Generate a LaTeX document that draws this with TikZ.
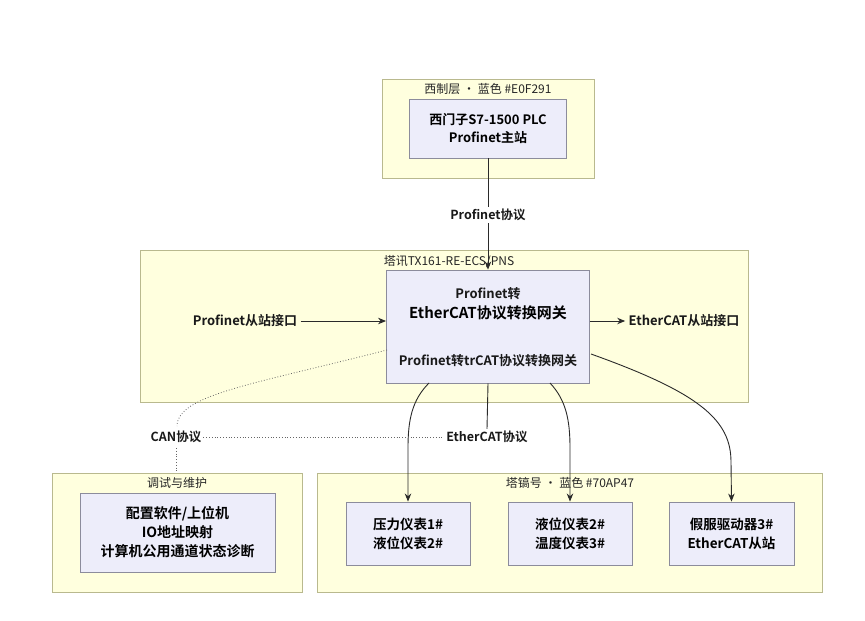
\documentclass[tikz,border=0pt]{standalone}
\usepackage{fontspec}
\setmainfont{Noto Sans CJK SC}[BoldFont={Noto Sans CJK SC Bold}]
\usetikzlibrary{arrows.meta}
\definecolor{clfill}{HTML}{FFFFDE}
\definecolor{cldraw}{HTML}{B9B98E}
\definecolor{ndfill}{HTML}{EDEDFA}
\definecolor{nddraw}{HTML}{8C8C9C}
\definecolor{ln}{HTML}{2A2A2A}
\tikzset{
  cluster/.style={draw=cldraw, fill=clfill, line width=0.9pt},
  boxnode/.style={draw=nddraw, fill=ndfill, line width=0.9pt, align=center, font=\fontsize{13}{18}\selectfont\bfseries, inner sep=0pt},
  cllabel/.style={font=\fontsize{12}{14}\selectfont, text=black!85},
  txt/.style={font=\fontsize{13}{16}\selectfont\bfseries, text=black!90},
  edgelbl/.style={font=\fontsize{12.5}{15}\selectfont\bfseries, fill=white, inner sep=2pt, text=black!90},
  conn/.style={draw=ln, line width=0.9pt},
  arr/.style={conn, -{Stealth[length=8pt,width=6.5pt]}},
  dots/.style={draw=black!60, line width=0.8pt, dotted},
}
\begin{document}
\begin{tikzpicture}[x=1pt,y=-1pt]
\useasboundingbox[fill=white] (0,0) rectangle (865,621);
% clusters
\draw[cluster] (382,79) rectangle (594,178);
\node[cllabel] (topcl) at (488,89) {西制层 · 蓝色 \#E0F291};
\draw[cluster] (140,250) rectangle (748,402);
\node[cllabel] (midcl) at (449,262) {塔讯TX161-RE-ECS/PNS};
\draw[cluster] (52,473) rectangle (302,592);
\node[cllabel] (blcl) at (177,483) {调试与维护};
\draw[cluster] (317,473) rectangle (822,592);
\node[cllabel] (brcl) at (570,483) {塔镐号 · 蓝色 \#70AP47};
% nodes
\node[boxnode, minimum width=157pt, minimum height=59pt] (plc) at (488,128.5) {西门子S7-1500 PLC\\Profinet主站};
\node[boxnode, minimum width=203pt, minimum height=113pt] (gw) at (488,326.5) {};
\node[txt] (gw1) at (488,294) {Profinet转};
\node[font=\fontsize{15}{18}\selectfont\bfseries] (gw2) at (488,313) {EtherCAT协议转换网关};
\node[txt] (gw3) at (488,361) {Profinet转trCAT协议转换网关};
\node[txt] (pin) at (245,321) {Profinet从站接口};
\node[txt] (eout) at (684,321) {EtherCAT从站接口};
\node[boxnode, font=\fontsize{14}{19}\selectfont\bfseries, minimum width=195pt, minimum height=79pt] (cfg) at (177.5,532.5) {配置软件/上位机\\IO地址映射\\计算机公用通道状态诊断};
\node[boxnode, font=\fontsize{13.5}{19}\selectfont\bfseries, minimum width=124pt, minimum height=63pt] (d1) at (408,533.5) {压力仪表1\#\\液位仪表2\#};
\node[boxnode, font=\fontsize{13.5}{19}\selectfont\bfseries, minimum width=124pt, minimum height=63pt] (d2) at (570,533.5) {液位仪表2\#\\温度仪表3\#};
\node[boxnode, font=\fontsize{13.5}{19}\selectfont\bfseries, minimum width=125pt, minimum height=63pt] (d3) at (731.5,533.5) {假服驱动器3\#\\EtherCAT从站};
% connectors
\draw[arr] (plc.south) -- (gw.north);
\node[edgelbl] (pnp) at (488,215) {Profinet协议};
\draw[arr] (pin.east) -- (gw.west |- pin.east);
\draw[arr] (gw.east |- eout.west) -- (eout.west);
\coordinate (g1) at (429,383);
\coordinate (g2) at (550,383);
\coordinate (g3) at (591,354);
\coordinate (gl) at (387,350);
\draw[arr] (g1) .. controls (412,400) and (408,420) .. (408,448) -- (d1.north);
\draw[arr] (g2) .. controls (566,400) and (570,420) .. (570,448) -- (d2.north);
\draw[arr] (g3) .. controls (700,393) and (731,420) .. (731,462) -- (d3.north);
\node[edgelbl] (ecp) at (487,437) {EtherCAT协议};
\node[edgelbl] (canp) at (176,437) {CAN协议};
\draw[conn] (gw.south) -- (ecp.north);
\draw[dots] (canp.east) -- (ecp.west);
\draw[dots] (gl) .. controls (250,385) and (178,395) .. (177,426);
\draw[dots] (176,448) -- (176,473);
\end{tikzpicture}
\end{document}
